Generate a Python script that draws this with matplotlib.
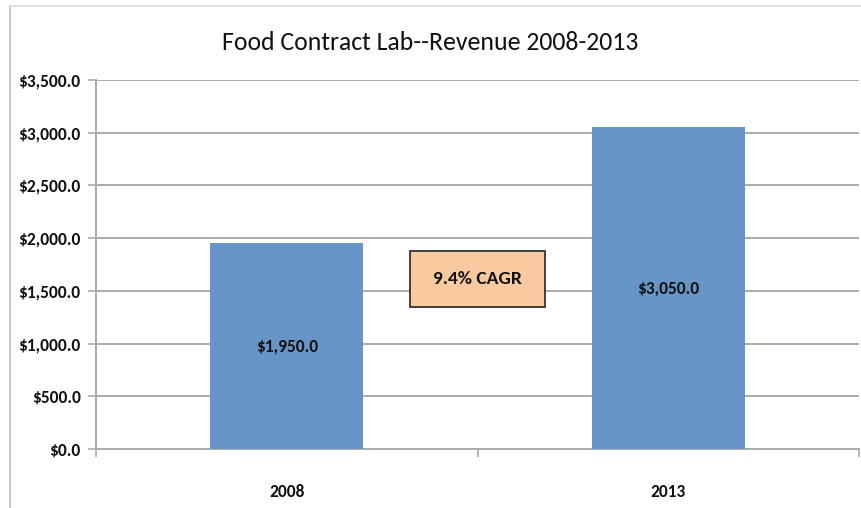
import matplotlib
matplotlib.use("Agg")
import matplotlib.pyplot as plt
from matplotlib.patches import Rectangle
from matplotlib.lines import Line2D
from matplotlib.ticker import FuncFormatter, MultipleLocator, FixedLocator

plt.rcParams['font.family'] = ['Carlito', 'Lato', 'DejaVu Sans']

years = ["2008", "2013"]
revenue = [1950.0, 3050.0]
cagr_label = "9.4% CAGR"
title = "Food Contract Lab--Revenue 2008-2013"

bar_color = "#6795C8"
grid_color = "#ABABAB"
text_color = "#111111"

fig = plt.figure(figsize=(8.61, 5.08), dpi=100)
ax = fig.add_axes([96 / 861, 1 - 449 / 508, 763 / 861, 369 / 508])

x = list(range(len(years)))
bars = ax.bar(x, revenue, width=0.4, color=bar_color, zorder=3)

ax.set_xlim(-0.5, len(years) - 0.5)
ax.set_ylim(0, 3500)
ax.yaxis.set_major_locator(MultipleLocator(500))
ax.yaxis.set_major_formatter(FuncFormatter(lambda v, p: f"${v:,.1f}"))
ax.grid(axis="y", color=grid_color, linewidth=1.4, zorder=0)

ax.set_xticks(x)
ax.set_xticklabels(years)
ax.xaxis.set_minor_locator(FixedLocator([i - 0.5 for i in range(len(years) + 1)]))
ax.tick_params(axis="x", which="major", length=0, pad=25, labelsize=12.5)
ax.tick_params(axis="x", which="minor", length=6, color=grid_color, width=1.2, direction="out")
ax.tick_params(axis="y", length=6, color=grid_color, width=1.2, labelsize=12.5, pad=5)
for lbl in ax.get_xticklabels() + ax.get_yticklabels():
    lbl.set_fontweight("bold")
    lbl.set_color(text_color)

for side in ("top", "right"):
    ax.spines[side].set_visible(False)
for side in ("left", "bottom"):
    ax.spines[side].set_color(grid_color)
    ax.spines[side].set_linewidth(1.4)

for b, v in zip(bars, revenue):
    ax.text(b.get_x() + b.get_width() / 2, v / 2, f"${v:,.1f}",
            ha="center", va="center", fontsize=12.5, fontweight="bold",
            color=text_color, zorder=4)

# CAGR call-out box between the two bars
box_cx, box_cy, box_w, box_h = 0.5, 1612, 0.354, 530
ax.add_patch(Rectangle((box_cx - box_w / 2, box_cy - box_h / 2), box_w, box_h,
                       facecolor="#F9CAA0", edgecolor="#333333", linewidth=1.3, zorder=4))
ax.text(box_cx, box_cy, cagr_label, ha="center", va="center", fontsize=14,
        fontweight="bold", color=text_color, zorder=5)

fig.text(0.5, 1 - 42 / 508, title, ha="center", va="center", fontsize=18.5,
         color=text_color)

# chart frame edges
fig.add_artist(Line2D([10 / 861, 10 / 861], [0, 1 - 6 / 508], transform=fig.transFigure,
                      color="#BBBBBB", linewidth=1.2))
fig.add_artist(Line2D([10 / 861, 1], [1 - 6 / 508, 1 - 6 / 508], transform=fig.transFigure,
                      color="#DDDDDD", linewidth=1.2))

fig.savefig("out.png", dpi=100)
